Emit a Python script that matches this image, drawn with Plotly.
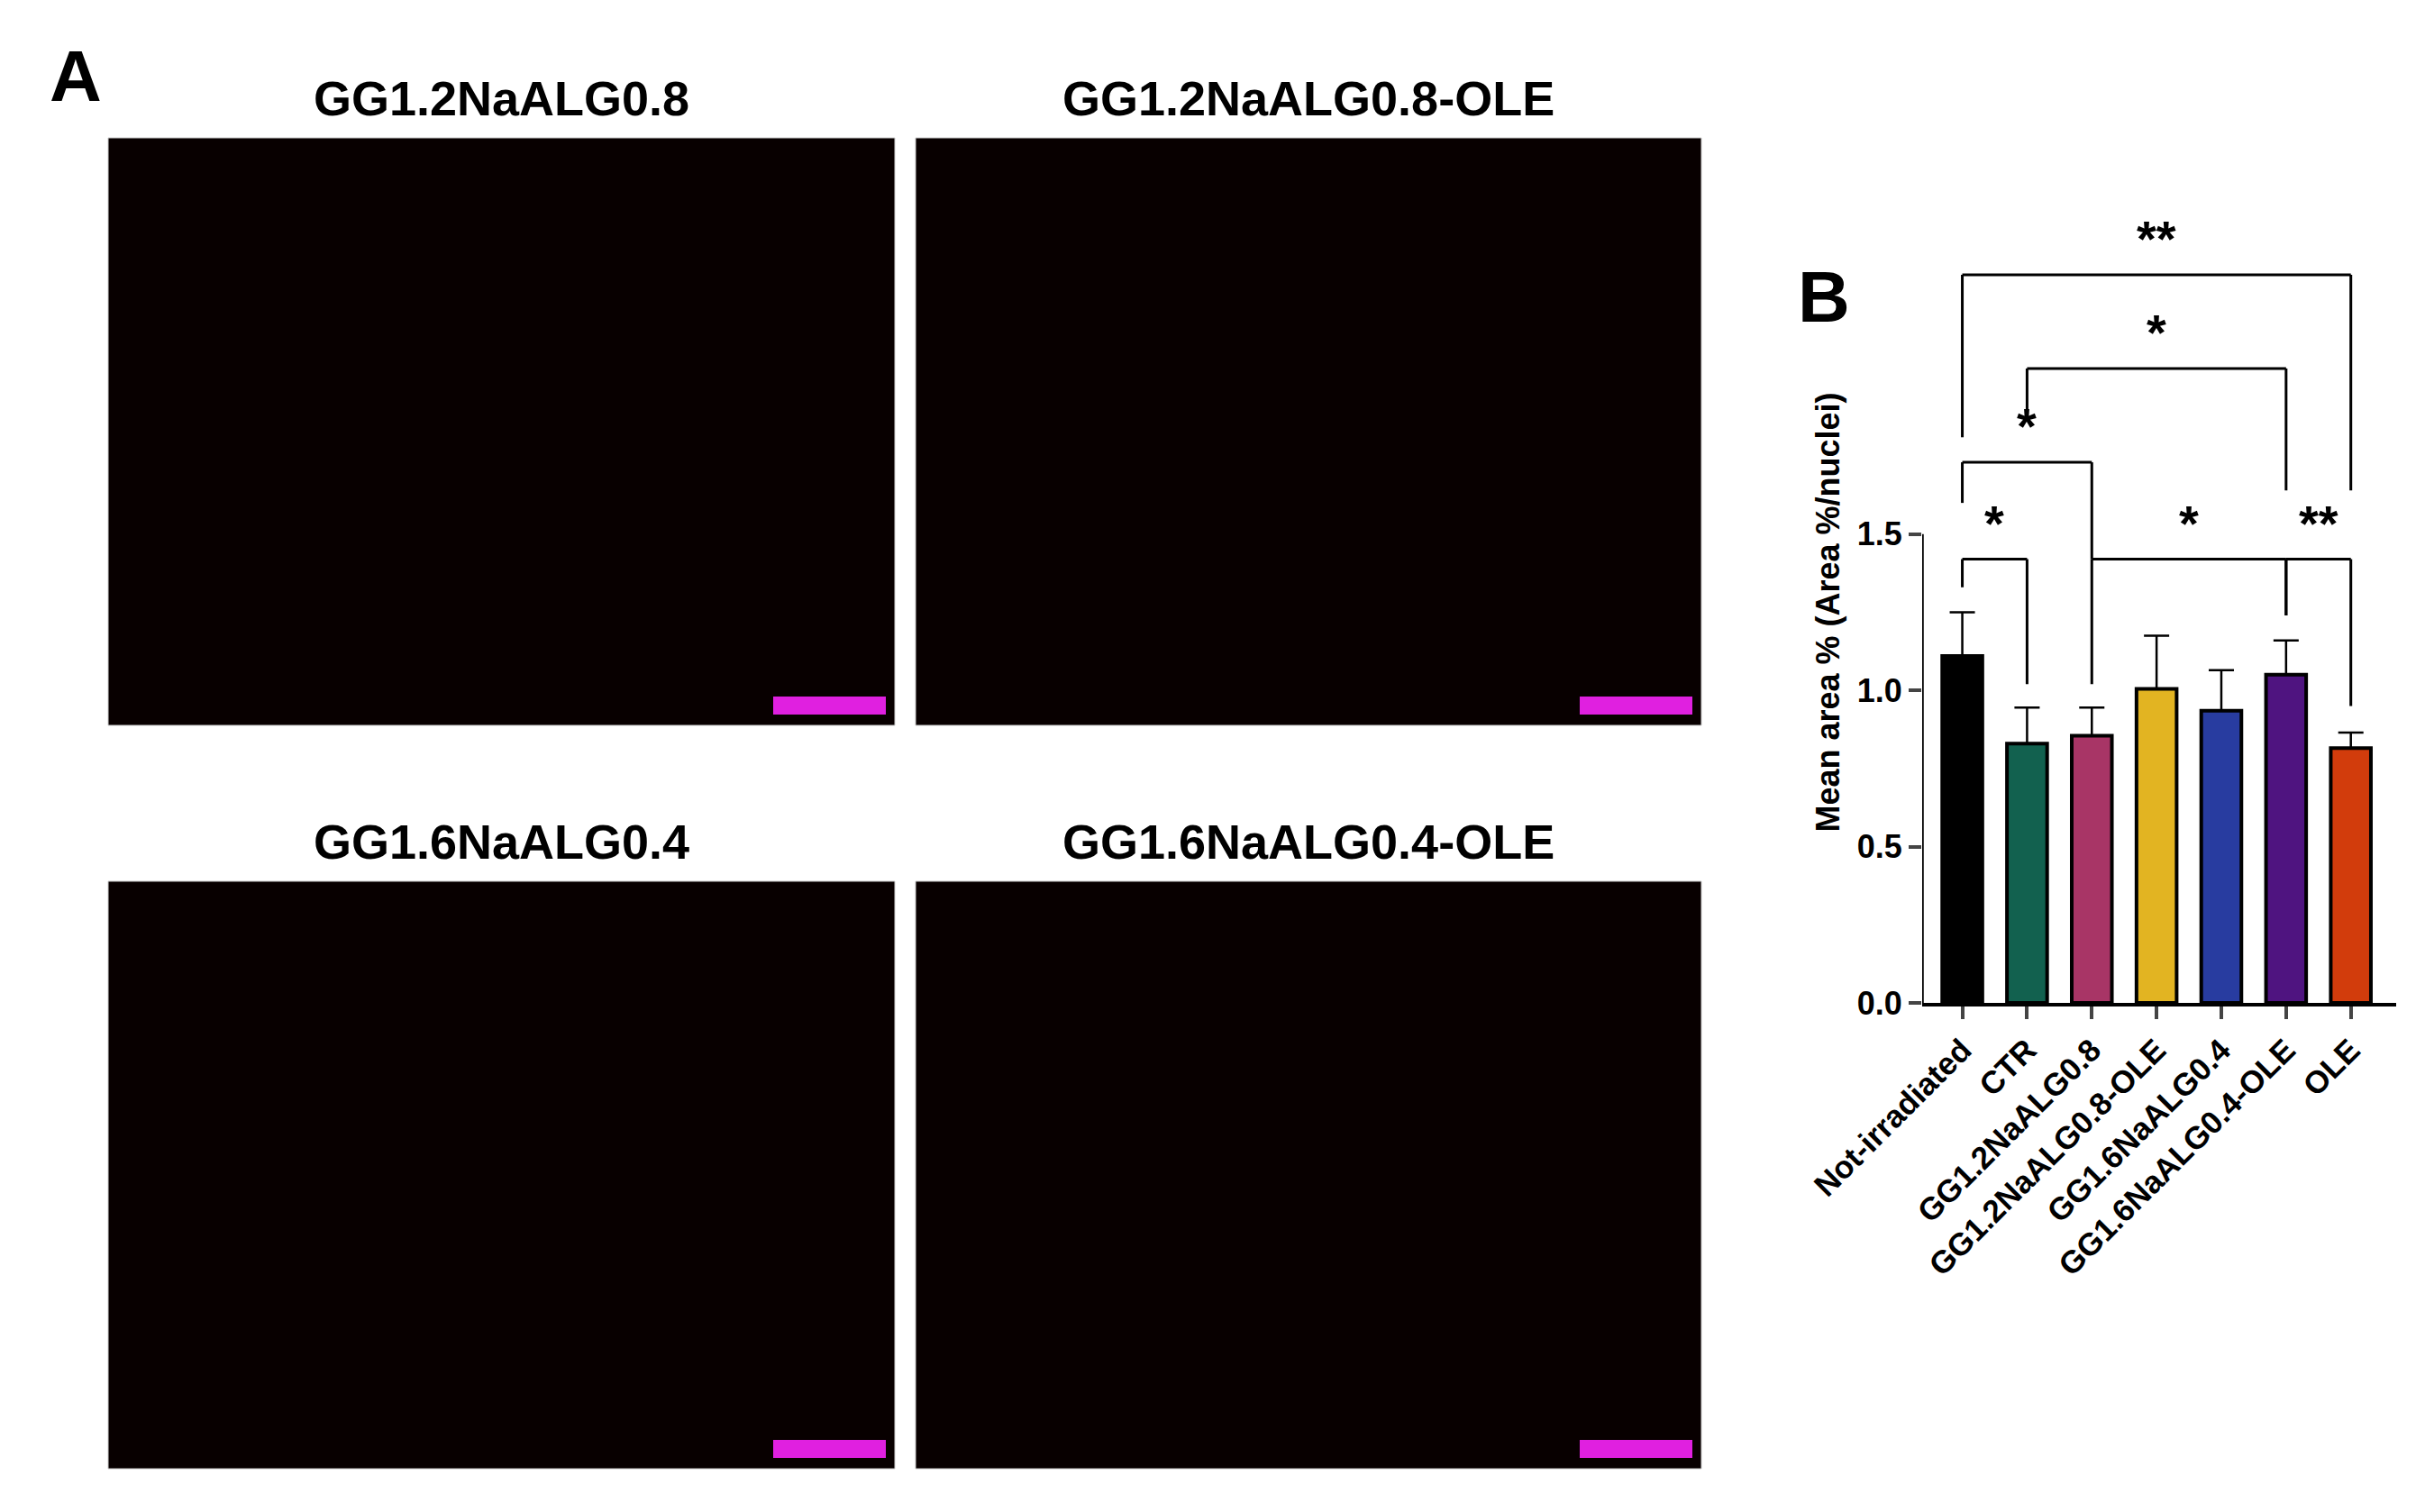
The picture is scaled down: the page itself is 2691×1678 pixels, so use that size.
import plotly.graph_objects as go

categories = ["Not-irradiated", "CTR", "GG1.2NaALG0.8", "GG1.2NaALG0.8-OLE",
              "GG1.6NaALG0.4", "GG1.6NaALG0.4-OLE", "OLE"]
means = [1.11, 0.83, 0.855, 1.005, 0.935, 1.05, 0.815]
errors = [0.14, 0.115, 0.09, 0.17, 0.13, 0.11, 0.05]
colors = ["#000000", "#12614f", "#a83566", "#e2b422", "#283ca0", "#4f1480", "#d23c0c"]
# brackets: (left idx, right idx, level, left drop end, right drop end, label)
brackets = [
    (0, 1, 1.42, 1.33, 1.02, "*"),
    (2, 5, 1.42, 1.02, 1.24, "*"),
    (5, 6, 1.42, 1.24, 0.95, "**"),
    (0, 2, 1.73, 1.60, 1.42, "*"),
    (1, 5, 2.03, 1.86, 1.64, "*"),
    (0, 6, 2.33, 1.81, 1.64, "**"),
]
panel_titles = ["GG1.2NaALG0.8", "GG1.2NaALG0.8-OLE", "GG1.6NaALG0.4", "GG1.6NaALG0.4-OLE"]

W, H = 2691, 1678
F = "Liberation Sans"
fig = go.Figure()
xs = list(range(len(categories)))
fig.add_trace(go.Bar(x=xs, y=means, width=0.62, marker=dict(color=colors, line=dict(color="black", width=4)),
                     error_y=dict(type="data", array=errors, arrayminus=[0]*7, color="black", thickness=2.5, width=14),
                     showlegend=False))

shapes = []
ann = []
for l, r, lev, dl, dr, lab in brackets:
    for x0, y0, x1, y1 in [(l, dl, l, lev), (l, lev, r, lev), (r, lev, r, dr)]:
        shapes.append(dict(type="line", xref="x", yref="y", x0=x0, y0=y0, x1=x1, y1=y1,
                           line=dict(color="black", width=3)))
    ann.append(dict(x=(l + r) / 2, y=lev + 0.02, xref="x", yref="y", text="<b>" + lab + "</b>", showarrow=False,
                    yanchor="bottom", font=dict(family=F, size=56, color="black")))
shapes.append(dict(type="line", xref="x", yref="y", x0=-0.62, x1=-0.62, y0=0, y1=1.5, line=dict(color="black", width=3.5)))

pan = [(112, 985, 145, 797), (1008, 1880, 145, 797), (112, 985, 970, 1622), (1008, 1880, 970, 1622)]
for (x0, x1, y0, y1), t in zip(pan, panel_titles):
    shapes.append(dict(type="rect", xref="paper", yref="paper", x0=x0 / W, x1=x1 / W, y0=1 - y1 / H, y1=1 - y0 / H,
                       fillcolor="#080000", line=dict(color="#cccccc", width=1), layer="below"))
    shapes.append(dict(type="rect", xref="paper", yref="paper", x0=(x1 - 135) / W, x1=(x1 - 10) / W,
                       y0=1 - (y1 - 12) / H, y1=1 - (y1 - 32) / H, fillcolor="#e020e0", line=dict(width=0)))
    ann.append(dict(x=(x0 + x1) / 2 / W, y=1 - (y0 - 12) / H, xref="paper", yref="paper", text="<b>" + t + "</b>",
                    showarrow=False, xanchor="center", yanchor="bottom", font=dict(family=F, size=54, color="black")))
ann.append(dict(x=45 / W, y=1 - 30 / H, xref="paper", yref="paper", text="<b>A</b>", showarrow=False,
                xanchor="left", yanchor="top", font=dict(family=F, size=80, color="black")))
ann.append(dict(x=1985 / W, y=1 - 275 / H, xref="paper", yref="paper", text="<b>B</b>", showarrow=False,
                xanchor="left", yanchor="top", font=dict(family=F, size=80, color="black")))

fig.update_layout(
    width=W, height=H, margin=dict(l=0, r=0, t=0, b=0, autoexpand=False), plot_bgcolor="white", paper_bgcolor="white",
    shapes=shapes, annotations=ann,
    xaxis=dict(domain=[2125 / W, 2651 / W], range=[-0.62, 6.7], tickvals=xs,
               ticktext=["<b>" + c + "</b>" for c in categories], tickangle=-45, automargin=False,
               showline=True, linecolor="black", linewidth=3.5, ticks="outside", ticklen=14, tickwidth=3.5,
               tickfont=dict(family=F, size=35, color="black"), showgrid=False, zeroline=False),
    yaxis=dict(domain=[1 - 1105 / H, 1 - 238 / H], range=[0, 2.5], tickvals=[0, 0.5, 1.0, 1.5],
               ticktext=["<b>0.0</b>", "<b>0.5</b>", "<b>1.0</b>", "<b>1.5</b>"], automargin=False,
               ticks="outside", ticklen=14, tickwidth=3.5, showgrid=False, zeroline=False, showline=False,
               tickfont=dict(family=F, size=36, color="black"),
               title=dict(text="<b>Mean area % (Area %/nuclei)</b>", font=dict(family=F, size=36, color="black"),
                          standoff=8)),
)
fig.write_html("out.html")
